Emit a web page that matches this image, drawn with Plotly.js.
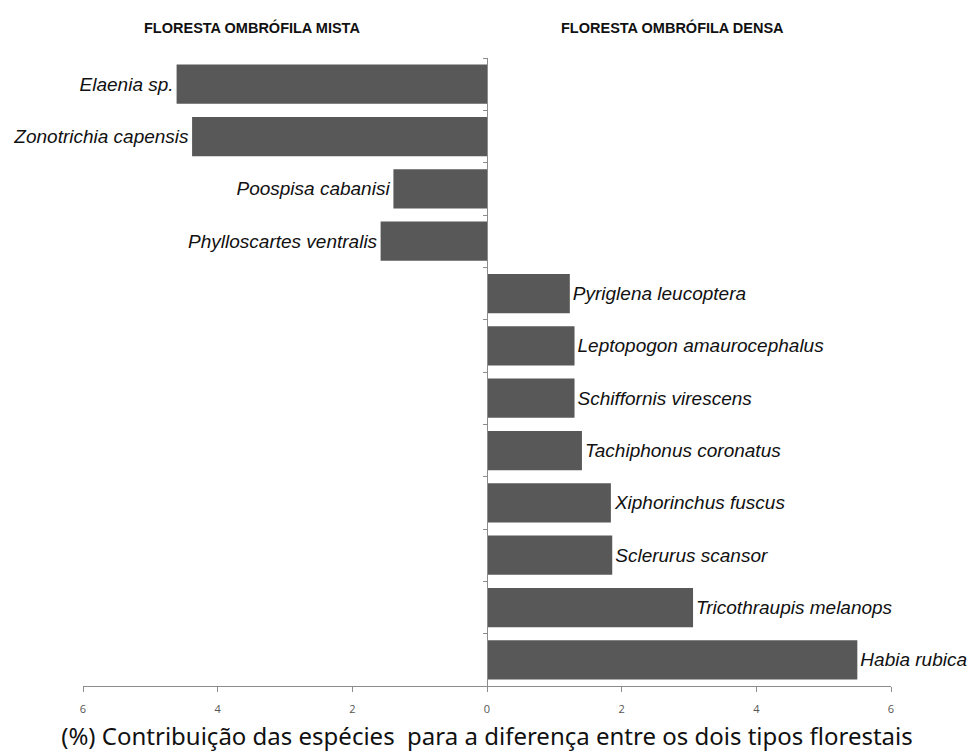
<!DOCTYPE html>
<html>
<head>
<meta charset="utf-8">
<script src="https://cdn.plot.ly/plotly-3.0.1.min.js"></script>
<style>html,body{margin:0;padding:0;background:#fff;}#chart{width:971px;height:753px;}</style>
</head>
<body>
<div id="chart"></div>
<script>
const species = [
  "Elaenia sp.",
  "Zonotrichia capensis",
  "Poospisa cabanisi",
  "Phylloscartes ventralis",
  "Pyriglena leucoptera",
  "Leptopogon amaurocephalus",
  "Schiffornis virescens",
  "Tachiphonus coronatus",
  "Xiphorinchus fuscus",
  "Sclerurus scansor",
  "Tricothraupis melanops",
  "Habia rubica"
];
// negative = Floresta Ombrófila Mista, positive = Floresta Ombrófila Densa
const contribution = [-4.61, -4.38, -1.39, -1.58, 1.23, 1.30, 1.30, 1.41, 1.84, 1.86, 3.06, 5.50];
const tickValues = [-6, -4, -2, 0, 2, 4, 6];
const tickLabels = ["6", "4", "2", "0", "2", "4", "6"];
const headers = ["FLORESTA OMBRÓFILA MISTA", "FLORESTA OMBRÓFILA DENSA"];
const xTitle = "(%) Contribuição das espécies&nbsp; para a diferença entre os dois tipos florestais";

const labelFont = "'Liberation Sans Narrow', 'Arial Narrow', 'Liberation Sans', Arial, sans-serif";

const trace = {
  type: "bar",
  orientation: "h",
  y: species,
  x: contribution,
  text: species.map(s => "<i>" + s + "</i>"),
  textposition: "outside",
  constraintext: "none",
  cliponaxis: false,
  textfont: {family: labelFont, size: 19, color: "#111"},
  marker: {color: "#585858", line: {width: 0}},
  hoverinfo: "none"
};

const layout = {
  width: 971,
  height: 753,
  margin: {l: 83, r: 80, t: 58, b: 67},
  paper_bgcolor: "#fff",
  plot_bgcolor: "#fff",
  showlegend: false,
  bargap: 0.25,
  font: {family: "Liberation Sans, Arial, sans-serif"},
  xaxis: {
    range: [-6, 6],
    tickvals: tickValues,
    ticktext: tickLabels,
    showgrid: false,
    zeroline: false,
    showline: true,
    linecolor: "#8c8c8c",
    linewidth: 1,
    ticks: "outside",
    ticklen: 5,
    tickcolor: "#8c8c8c",
    ticklabelstandoff: 8,
    tickfont: {family: "'Open Sans', 'Noto Sans', sans-serif", size: 11, color: "#555"},
    title: {
      text: xTitle,
      font: {family: "'Noto Sans', 'Open Sans', sans-serif", size: 24, color: "#111"},
      standoff: 12
    },
    fixedrange: true
  },
  yaxis: {
    type: "category",
    autorange: "reversed",
    anchor: "free",
    position: 0.5,
    showgrid: false,
    zeroline: false,
    showline: true,
    linecolor: "#8c8c8c",
    linewidth: 1,
    ticks: "outside",
    tickson: "boundaries",
    ticklen: 4,
    tickcolor: "#8c8c8c",
    showticklabels: false,
    fixedrange: true
  },
  annotations: [
    {text: "<b>" + headers[0] + "</b>", xref: "paper", yref: "paper", x: 0.209, y: 1, yshift: 31,
     showarrow: false, xanchor: "center", yanchor: "middle",
     font: {family: labelFont, size: 14.5, color: "#111"}},
    {text: "<b>" + headers[1] + "</b>", xref: "paper", yref: "paper", x: 0.73, y: 1, yshift: 31,
     showarrow: false, xanchor: "center", yanchor: "middle",
     font: {family: labelFont, size: 14.5, color: "#111"}}
  ]
};

Plotly.newPlot("chart", [trace], layout, {displayModeBar: false, staticPlot: true});
</script>
</body>
</html>
